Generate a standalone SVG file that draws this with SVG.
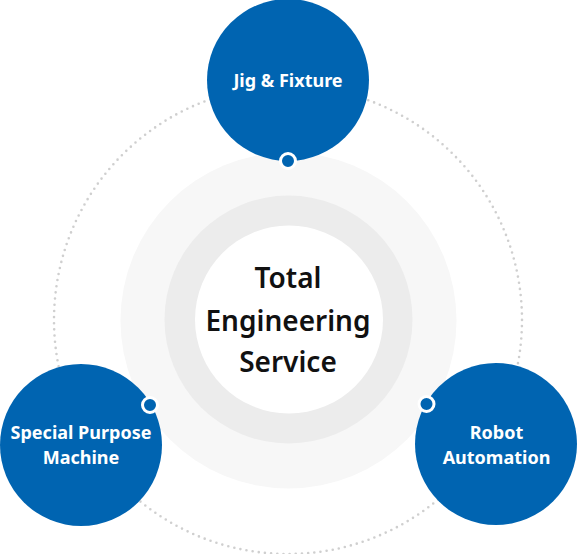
<svg xmlns="http://www.w3.org/2000/svg" width="577" height="554" viewBox="0 0 577 554">
<style>
.node{fill:#0064b1}
.dot{fill:#0064b1;stroke:#fff;stroke-width:3}
.lbl{font-family:"Noto Sans","Open Sans",sans-serif;font-weight:700;font-size:18px;fill:#fff;text-anchor:middle}
.ctr{font-family:"Noto Sans","Open Sans",sans-serif;font-weight:600;font-size:28px;fill:#111;text-anchor:middle}
</style>
<rect width="577" height="554" fill="#fff"/>
<g id="connectors">
<circle cx="288" cy="320" r="234" fill="none" stroke="#cfcfcf" stroke-width="2.6" stroke-linecap="round" stroke-dasharray="0 6.2"/>
</g>
<g id="center">
<circle cx="288.5" cy="320.5" r="168" fill="#f7f7f7"/>
<circle cx="288.5" cy="319.5" r="124" fill="#ececec"/>
<circle cx="289" cy="319.5" r="94" fill="#fff"/>
<text class="ctr" x="288" y="288">Total</text>
<text class="ctr" x="288" y="331">Engineering</text>
<text class="ctr" x="288" y="372">Service</text>
</g>
<g id="jig">
<circle class="node" cx="288" cy="80" r="81"/>
<circle class="dot" cx="288" cy="161" r="7.5"/>
<text class="lbl" x="288" y="87">Jig &amp; Fixture</text>
</g>
<g id="spm">
<circle class="node" cx="81" cy="445" r="81"/>
<circle class="dot" cx="150" cy="405" r="7.5"/>
<text class="lbl" x="81" y="439">Special Purpose</text>
<text class="lbl" x="81" y="464">Machine</text>
</g>
<g id="robot">
<circle class="node" cx="496" cy="444" r="81"/>
<circle class="dot" cx="426.5" cy="404" r="7.5"/>
<text class="lbl" x="496.5" y="439">Robot</text>
<text class="lbl" x="496.5" y="464">Automation</text>
</g>
</svg>
